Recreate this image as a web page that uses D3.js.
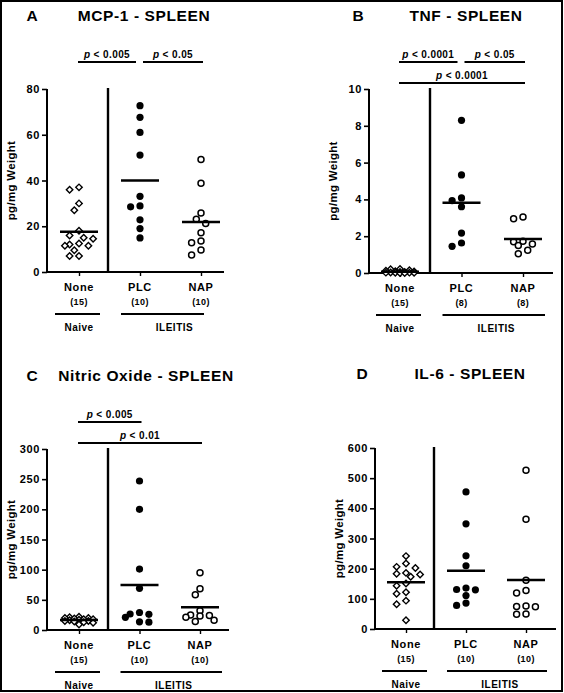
<!DOCTYPE html>
<html><head><meta charset="utf-8">
<script src="https://cdn.jsdelivr.net/npm/d3@7"></script>
<style>
html,body{margin:0;padding:0;background:#fff;}
svg text{font-family:"Liberation Sans",Arial,sans-serif;font-weight:bold;fill:#000;}
</style></head>
<body>
<svg id="chart" width="564" height="693"></svg>
<script>
// ---------- DATA ----------
const groups = ["None", "PLC", "NAP"];
const cohorts = ["Naive", "ILEITIS"];
const panelLetters = ["A", "B", "C", "D"];
const panelTitles = ["MCP-1 - SPLEEN", "TNF - SPLEEN", "Nitric Oxide - SPLEEN", "IL-6 - SPLEEN"];
const yLabel = "pg/mg Weight";

const ticksA = [0, 20, 40, 60, 80];
const ticksB = [0, 2, 4, 6, 8, 10];
const ticksC = [0, 50, 100, 150, 200, 250, 300];
const ticksD = [0, 100, 200, 300, 400, 500, 600];

// MCP-1
const mcpNone = [37, 36, 30, 27, 18, 16, 15, 14.5, 12.5, 12, 11.5, 11.5, 9.5, 7, 7];
const mcpPLC  = [72.7, 67.6, 61, 51.1, 33.1, 28.9, 28.5, 22.8, 19, 14.9];
const mcpNAP  = [49.2, 38.8, 25.8, 23.1, 21.2, 17.2, 13.6, 12.8, 9.6, 7.4];
// TNF
const tnfNone = [0.22, 0.2, 0.15, 0.12, 0.1, 0.08, 0.05, 0.05, 0.03, 0.02, 0.02, 0.01, 0.01, 0, 0];
const tnfPLC  = [8.3, 5.33, 4.08, 3.93, 3.6, 2.17, 1.63, 1.45];
const tnfNAP  = [3.04, 2.95, 1.72, 1.7, 1.58, 1.5, 1.23, 1.05];
// Nitric oxide
const noNone = [22, 21, 20, 20, 19, 18, 18, 17, 16, 15, 15, 14, 13, 12, 9];
const noPLC  = [247, 200, 101, 69, 29, 26.5, 26, 21, 13.5, 13];
const noNAP  = [95, 68.5, 58.5, 32, 25, 24, 23, 21, 16, 14];
// IL-6
const il6None = [241.6, 217, 206, 202, 186, 183, 181, 173, 151, 143, 122, 117, 94, 82, 29];
const il6PLC  = [454.4, 348.5, 242.7, 209.6, 135.7, 131, 130, 111, 86, 78];
const il6NAP  = [526, 364, 162, 128, 119, 76, 75, 74, 49.6, 48.5];

// significance annotations: [from, to, label, row]
const sigA = [["None", "PLC", "p < 0.005", 0], ["PLC", "NAP", "p < 0.05", 0]];
const sigB = [["None", "PLC", "p < 0.0001", 0], ["PLC", "NAP", "p < 0.05", 0], ["None", "NAP", "p < 0.0001", 1]];
const sigC = [["None", "PLC", "p < 0.005", 0], ["None", "NAP", "p < 0.01", 1]];
const sigD = [];

// ---------- LAYOUT ----------
const panels = [
  { letter: panelLetters[0], title: panelTitles[0], series: [mcpNone, mcpPLC, mcpNAP], ticks: ticksA, sig: sigA,
    axisX: 47, yTop: 89, yBot: 272, xEnd: 224, x0: 79, x1: 201, divX: 108, letterX: 32, titleX: 144, titleY: 21, ileEnd: 3 },
  { letter: panelLetters[1], title: panelTitles[1], series: [tnfNone, tnfPLC, tnfNAP], ticks: ticksB, sig: sigB,
    axisX: 369, yTop: 89, yBot: 273, xEnd: 553, x0: 400, x1: 523, divX: 430, letterX: 358, titleX: 466, titleY: 21, ileEnd: 22 },
  { letter: panelLetters[2], title: panelTitles[2], series: [noNone, noPLC, noNAP], ticks: ticksC, sig: sigC,
    axisX: 47, yTop: 449, yBot: 630, xEnd: 229, x0: 79, x1: 200, divX: 108, letterX: 32, titleX: 146, titleY: 381, ileEnd: 22 },
  { letter: panelLetters[3], title: panelTitles[3], series: [il6None, il6PLC, il6NAP], ticks: ticksD, sig: sigD,
    axisX: 375, yTop: 448, yBot: 629, xEnd: 556, x0: 406, x1: 526, divX: 434, letterX: 362, titleX: 470, titleY: 379, ileEnd: 21 }
];

const svg = d3.select("#chart");
svg.append("rect").attr("x", 1).attr("y", 1).attr("width", 561).attr("height", 690)
  .attr("fill", "none").attr("stroke", "#000").attr("stroke-width", 2);

const R = 3.6;

// column-scatter layout: nearest free offset, limited width; overlap allowed when crowded
function swarm(values, y, cx, r, step, maxK) {
  const order = values.map((v, i) => i).sort((a, b) => values[b] - values[a]);
  const placed = [];
  const out = new Array(values.length);
  for (const i of order) {
    const py = y(values[i]);
    let best = null, bestScore = -1, bestOff = 0;
    for (let k = 0; k <= maxK && best === null; k++) {
      const cands = k === 0 ? [0] : [-k * step, k * step];
      for (const off of cands) {
        const dmin = placed.length ? d3.min(placed, p => Math.hypot(p.x - off, p.y - py)) : Infinity;
        if (dmin >= 2 * r - 0.3) { best = off; break; }
        if (dmin > bestScore) { bestScore = dmin; bestOff = off; }
      }
    }
    if (best === null) best = bestOff;
    placed.push({ x: best, y: py });
    out[i] = { x: cx + best, y: py, v: values[i] };
  }
  return out;
}

panels.forEach(P => {
  const g = svg.append("g");
  const y = d3.scaleLinear().domain([P.ticks[0], P.ticks[P.ticks.length - 1]]).range([P.yBot, P.yTop]);
  const x = d3.scalePoint().domain(groups).range([P.x0, P.x1]);

  // titles
  g.append("text").attr("x", P.letterX).attr("y", P.titleY).attr("text-anchor", "middle")
    .style("font-size", "15.5px").text(P.letter);
  g.append("text").attr("x", P.titleX).attr("y", P.titleY).attr("text-anchor", "middle")
    .style("font-size", "15.5px").style("letter-spacing", "0.6px").text(P.title);

  // y axis
  const yAxis = d3.axisLeft(y).tickValues(P.ticks).tickSize(5).tickPadding(2).tickFormat(d3.format("d"));
  const ya = g.append("g").attr("transform", `translate(${P.axisX},0)`).call(yAxis);
  ya.select(".domain").attr("stroke-width", 2).attr("d", `M0,${P.yTop}V${P.yBot}`);
  ya.selectAll(".tick line").attr("stroke-width", 1.6);
  ya.selectAll(".tick text").style("font-size", "11px").style("letter-spacing", "0.6px")
    .style("font-family", "'Liberation Sans',Arial,sans-serif").style("font-weight", "bold");

  // x axis
  const xAxis = d3.axisBottom(x).tickSize(4).tickFormat("");
  const xa = g.append("g").attr("transform", `translate(0,${P.yBot})`).call(xAxis);
  xa.select(".domain").attr("stroke-width", 2).attr("d", `M${P.axisX},0H${P.xEnd}`);
  xa.selectAll(".tick line").attr("stroke-width", 1.4);

  // category labels
  groups.forEach((grp, i) => {
    g.append("text").attr("x", x(grp)).attr("y", P.yBot + 19).attr("text-anchor", "middle")
      .style("font-size", "11px").style("letter-spacing", "0.6px").text(grp);
    g.append("text").attr("x", x(grp)).attr("y", P.yBot + 33).attr("text-anchor", "middle")
      .style("font-size", "9px").style("letter-spacing", "0.4px").text(`(${P.series[i].length})`);
  });

  // cohort underlines
  const ly = P.yBot + 42;
  g.append("line").attr("x1", x("None") - 24).attr("x2", x("None") + 21).attr("y1", ly).attr("y2", ly)
    .attr("stroke", "#000").attr("stroke-width", 1.8);
  g.append("line").attr("x1", x("PLC") - 19).attr("x2", x("NAP") + P.ileEnd).attr("y1", ly).attr("y2", ly)
    .attr("stroke", "#000").attr("stroke-width", 1.8);
  g.append("text").attr("x", x("None")).attr("y", P.yBot + 59).attr("text-anchor", "middle")
    .style("font-size", "10px").style("letter-spacing", "0.5px").text(cohorts[0]);
  g.append("text").attr("x", (x("PLC") + x("NAP")) / 2 + 4).attr("y", P.yBot + 59).attr("text-anchor", "middle")
    .style("font-size", "10px").style("letter-spacing", "0.5px").text(cohorts[1]);

  // divider
  g.append("line").attr("x1", P.divX).attr("x2", P.divX).attr("y1", P.yTop - 1).attr("y2", P.yBot)
    .attr("stroke", "#000").attr("stroke-width", 2.4);

  // y label
  g.append("text").attr("transform", `translate(${P.axisX - 32},${(P.yTop + P.yBot) / 2}) rotate(-90)`)
    .attr("text-anchor", "middle").style("font-size", "11.5px").style("letter-spacing", "0.3px").text(yLabel);

  // significance bars
  P.sig.forEach(([a, b, label, row]) => {
    const by = P.yTop - 27 + row * 21;
    let xs = x(a) - 1, xe = x(b) + 2;
    if (P.sig.some(s => s[3] === row && s[1] === a)) xs += 4;
    if (P.sig.some(s => s[3] === row && s[0] === b)) xe -= 6;
    g.append("line").attr("x1", xs).attr("x2", xe).attr("y1", by).attr("y2", by)
      .attr("stroke", "#000").attr("stroke-width", 1.8);
    const t = g.append("text").attr("x", (xs + xe) / 2).attr("y", by - 4).attr("text-anchor", "middle")
      .style("font-size", "10px").style("letter-spacing", "0.4px");
    t.append("tspan").style("font-style", "italic").text(label.slice(0, 1));
    t.append("tspan").text(label.slice(1));
  });

  // points
  P.series.forEach((vals, i) => {
    const grp = groups[i];
    const pts = swarm(vals, y, x(grp), R, 4.7, 3);
    if (grp === "None") {
      g.selectAll(null).data(pts).enter().append("path")
        .attr("d", d3.symbol(d3.symbolSquare, 21)())
        .attr("transform", d => `translate(${d.x},${d.y}) rotate(45)`)
        .attr("fill", "#fff").attr("stroke", "#000").attr("stroke-width", 1.4);
    } else {
      const filled = grp === "PLC";
      g.selectAll(null).data(pts).enter().append("circle")
        .attr("cx", d => d.x).attr("cy", d => d.y).attr("r", filled ? R : R - 0.6)
        .attr("fill", filled ? "#000" : "#fff").attr("stroke", "#000").attr("stroke-width", filled ? 0 : 1.5);
    }
    const m = d3.mean(vals);
    g.append("line").attr("x1", x(grp) - 19).attr("x2", x(grp) + 19).attr("y1", y(m)).attr("y2", y(m))
      .attr("stroke", "#000").attr("stroke-width", 2.5);
  });
});
</script>
</body></html>
